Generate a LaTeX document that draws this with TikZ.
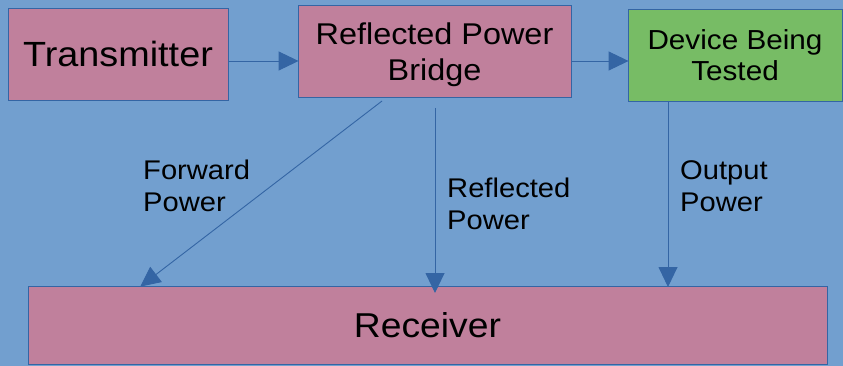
\documentclass[tikz,border=0pt]{standalone}
\usepackage{fontspec}
\setmainfont{Liberation Sans}[FakeStretch=1.08]
\usetikzlibrary{arrows.meta}
\definecolor{bgblue}{HTML}{729FCF}
\definecolor{edgeblue}{HTML}{3465A4}
\definecolor{boxpink}{HTML}{C0809C}
\definecolor{boxgreen}{HTML}{77BC65}
\tikzset{
  block/.style={draw=edgeblue, line width=0.9pt, fill=boxpink, inner sep=0pt},
  link/.style={draw=edgeblue, line width=0.9pt,
    -{Triangle[length=20pt,width=19pt]}, shorten >=-1pt},
  tag/.style={anchor=west, align=left, inner sep=0pt,
    font=\fontsize{27}{32}\selectfont},
}
\begin{document}
\begin{tikzpicture}[x=1pt, y=-1pt]
  \fill[bgblue] (0,0) rectangle (843,366);
  \useasboundingbox (0,0) rectangle (843,366);

  % blocks
  \node[block, minimum width=220pt, minimum height=92pt,
        font=\fontsize{35}{40}\selectfont] (tx) at (118,54) {Transmitter};
  \node[block, minimum width=273pt, minimum height=92pt] (bridge)
        at (434.5,51) {};
  \node[align=center, inner sep=0pt, font=\fontsize{30}{36}\selectfont]
        (bridgetxt) at ([yshift=-3.5pt]bridge.center) {Reflected Power\\Bridge};
  \node[block, fill=boxgreen, minimum width=214pt, minimum height=92pt,
        align=center, font=\fontsize{27.5}{31}\selectfont] (dut) at (735,55)
        {Device Being\\Tested};
  \node[block, minimum width=799pt, minimum height=78pt,
        font=\fontsize{34.5}{40}\selectfont] (rx) at (427.5,325) {Receiver};

  % connector end points
  \coordinate (fwdS) at (382,101);
  \coordinate (fwdE) at (141,286);
  \coordinate (refS) at (435,108);
  \coordinate (refE) at (435,292);
  \coordinate (outS) at (668,101);
  \coordinate (outE) at (668,286);

  % signal path
  \draw[link] (tx.east |- 0,61) -- (bridge.west |- 0,61);
  \draw[link] (bridge.east |- 0,61) -- (dut.west |- 0,61);

  % measurement taps
  \draw[link] (fwdS) -- (fwdE);
  \draw[link] (refS) -- (refE);
  \draw[link] (outS) -- (outE);

  % labels
  \node[tag] (lfwd) at (143,186) {Forward\\Power};
  \node[tag] (lref) at (447,204) {Reflected\\Power};
  \node[tag] (lout) at (680,186) {Output\\Power};
\end{tikzpicture}
\end{document}
